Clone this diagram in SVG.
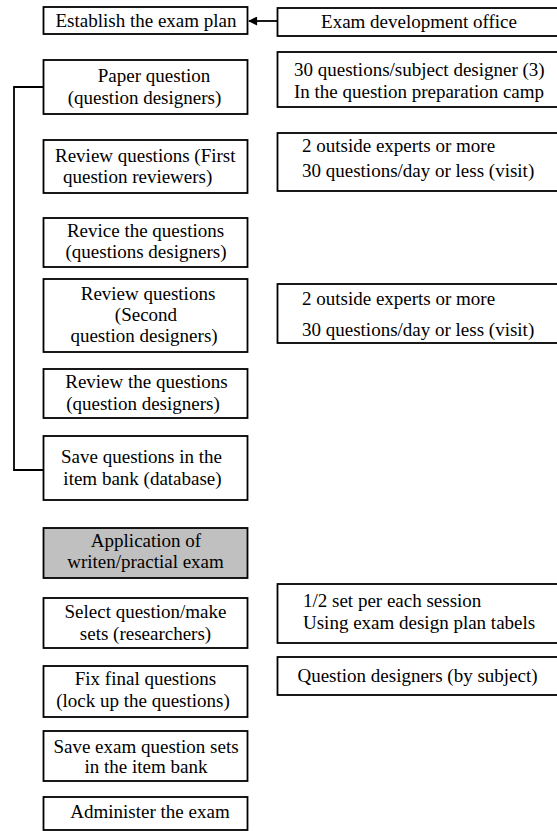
<svg xmlns="http://www.w3.org/2000/svg" width="557" height="831" viewBox="0 0 557 831">
<style>
rect{fill:#fff;stroke:#000;stroke-width:1.8}
rect.gray{fill:#c0c0c0}
text{font-family:"Liberation Serif","Times New Roman",serif;font-size:19px;fill:#000}
.c{text-anchor:middle}
.conn{fill:none;stroke:#000;stroke-width:1.8}
</style>
<defs>
<marker id="ah" viewBox="0 0 10 10" refX="9" refY="5" markerWidth="10" markerHeight="9" markerUnits="userSpaceOnUse" orient="auto">
<path d="M0,0 L10,5 L0,10 z" fill="#000"/>
</marker>
</defs>
<g id="connectors">
<path class="conn" d="M277,21 H249" marker-end="url(#ah)"/>
<path class="conn" d="M44,87 H14 V470 H44"/>
</g>
<g id="n1"><rect x="43.5" y="7" width="204" height="27"/><text class="c" x="146" y="27">Establish the exam plan</text></g>
<g id="r1"><rect x="277.5" y="8" width="290" height="28"/><text class="c" x="419" y="28">Exam development office</text></g>
<g id="n2"><rect x="43.5" y="60" width="204" height="54"/><text class="c" x="154" y="82">Paper question</text><text class="c" x="144.5" y="104">(question designers)</text></g>
<g id="r2"><rect x="277.5" y="52" width="290" height="55"/><text x="294" y="76">30 questions/subject designer (3)</text><text x="294" y="98">In the question preparation camp</text></g>
<g id="n3"><rect x="43.5" y="140" width="204" height="53"/><text x="55" y="162">Review questions (First</text><text x="63" y="183">question reviewers)</text></g>
<g id="r3"><rect x="277.5" y="133" width="290" height="58"/><text x="302" y="152">2 outside experts or more</text><text x="302" y="177">30 questions/day or less (visit)</text></g>
<g id="n4"><rect x="43.5" y="218" width="204" height="49"/><text class="c" x="145.5" y="237">Revice the questions</text><text class="c" x="146" y="258">(questions designers)</text></g>
<g id="n5"><rect x="43.5" y="279" width="204" height="73"/><text class="c" x="148" y="300">Review questions</text><text class="c" x="146" y="321">(Second</text><text class="c" x="144" y="342">question designers)</text></g>
<g id="r4"><rect x="277.5" y="284" width="290" height="59"/><text x="302" y="305">2 outside experts or more</text><text x="302" y="336">30 questions/day or less (visit)</text></g>
<g id="n6"><rect x="43.5" y="369" width="204" height="49"/><text class="c" x="146.5" y="388">Review the questions</text><text class="c" x="143" y="410">(question designers)</text></g>
<g id="n7"><rect x="43.5" y="436" width="204" height="64"/><text class="c" x="141.5" y="463">Save questions in the</text><text class="c" x="142.5" y="485">item bank (database)</text></g>
<g id="n8"><rect class="gray" x="43.5" y="528" width="204" height="50"/><text class="c" x="146" y="547">Application of</text><text class="c" x="145.5" y="568">writen/practial exam</text></g>
<g id="n9"><rect x="43.5" y="598" width="204" height="50"/><text class="c" x="145.5" y="618">Select question/make</text><text class="c" x="145.5" y="640">sets (researchers)</text></g>
<g id="r5"><rect x="277.5" y="584" width="290" height="59"/><text x="303" y="607">1/2 set per each session</text><text x="303" y="629">Using exam design plan tabels</text></g>
<g id="n10"><rect x="43.5" y="666" width="204" height="51"/><text class="c" x="145.5" y="685">Fix final questions</text><text class="c" x="143" y="707">(lock up the questions)</text></g>
<g id="r6"><rect x="277.5" y="657" width="290" height="38"/><text class="c" x="417.5" y="682">Question designers (by subject)</text></g>
<g id="n11"><rect x="43.5" y="731" width="204" height="50"/><text class="c" x="146" y="753">Save exam question sets</text><text class="c" x="146" y="773">in the item bank</text></g>
<g id="n12"><rect x="43.5" y="797" width="204" height="33"/><text class="c" x="150" y="818">Administer the exam</text></g>
</svg>
